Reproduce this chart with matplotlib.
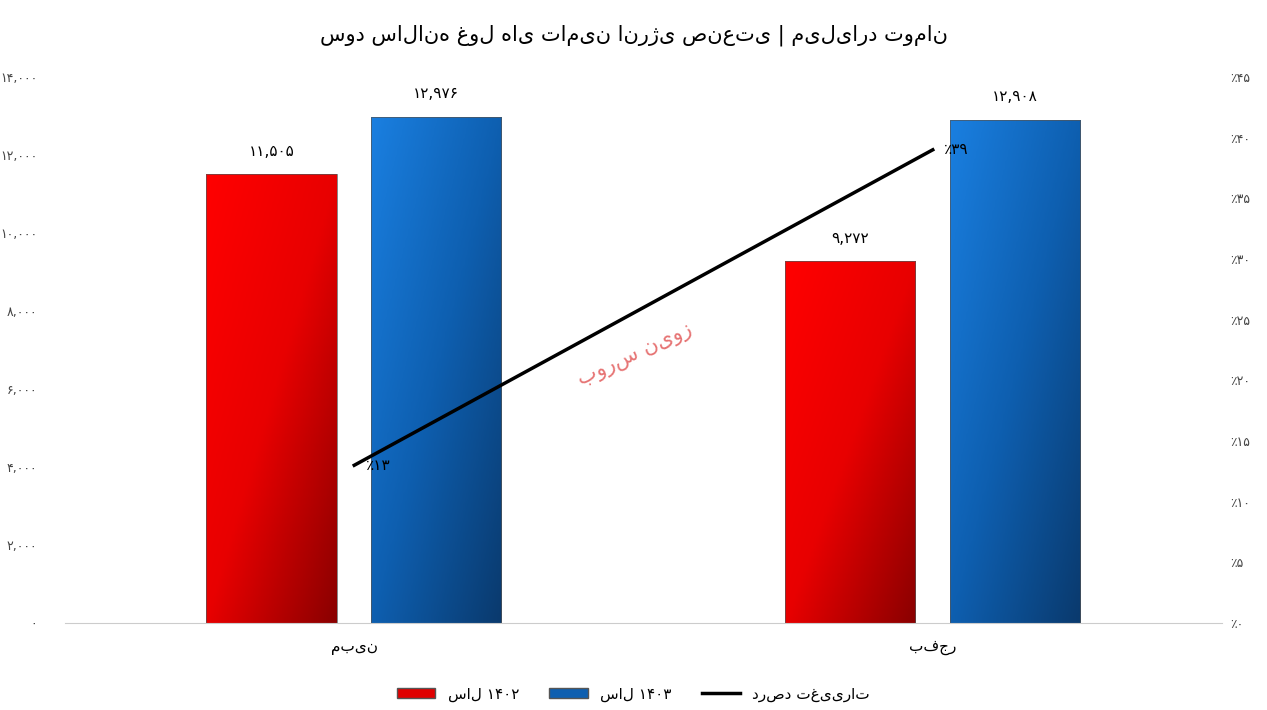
import matplotlib
matplotlib.use("Agg")
import matplotlib.pyplot as plt
import numpy as np
from matplotlib.colors import LinearSegmentedColormap
from matplotlib.lines import Line2D
from matplotlib.patches import Patch

plt.rcParams['font.family'] = ['DejaVu Sans']

categories = ['مبین', 'بفجر']
vals_1402 = [11505, 9272]
vals_1403 = [12976, 12908]
labels_1402 = ['۱۱,۵۰۵', '۹,۲۷۲']
labels_1403 = ['۱۲,۹۷۶', '۱۲,۹۰۸']
pct_change = [13, 39]
pct_labels = ['٪۱۳', '٪۳۹']
left_ticks = [0, 2000, 4000, 6000, 8000, 10000, 12000, 14000]
left_ticklabels = ['۰', '۲,۰۰۰', '۴,۰۰۰', '۶,۰۰۰', '۸,۰۰۰', '۱۰,۰۰۰', '۱۲,۰۰۰', '۱۴,۰۰۰']
right_ticks = [0, 5, 10, 15, 20, 25, 30, 35, 40, 45]
right_ticklabels = ['٪۰', '٪۵', '٪۱۰', '٪۱۵', '٪۲۰', '٪۲۵', '٪۳۰', '٪۳۵', '٪۴۰', '٪۴۵']

fig = plt.figure(figsize=(12.67, 7.1), dpi=100)
ax = fig.add_axes([65/1267, 1-623/710, (1222-65)/1267, (623-77)/710])
x = np.arange(len(categories))
w = 0.225
red_cmap = LinearSegmentedColormap.from_list('r', ['#ff0000', '#e80000', '#8b0000'])
blue_cmap = LinearSegmentedColormap.from_list('b', ['#1a7fe0', '#0e5fb0', '#0a3a6e'])

def grad_bars(xs, vals, cmap):
    bars = ax.bar(xs, vals, w, color='none', edgecolor='#555555', linewidth=0.5, zorder=2)
    for b in bars:
        x0, y0 = b.get_x(), b.get_y()
        ww, hh = b.get_width(), b.get_height()
        g = np.add.outer(np.linspace(0, 1, 50), np.linspace(0, 1, 50)) / 2
        im = ax.imshow(g, cmap=cmap, extent=[x0, x0+ww, y0, y0+hh], aspect='auto', zorder=1, vmin=0, vmax=1)
        im.set_clip_path(b)
    return bars

grad_bars(x - 0.143, vals_1402, red_cmap)
grad_bars(x + 0.142, vals_1403, blue_cmap)
for i in range(len(x)):
    ax.text(x[i]-0.143, vals_1402[i]+400, labels_1402[i], ha='center', va='bottom', fontsize=11)
    ax.text(x[i]+0.142, vals_1403[i]+400, labels_1403[i], ha='center', va='bottom', fontsize=11)
ax.set_xlim(-0.5, 1.5)
ax.set_ylim(0, 14000)
ax.set_yticks(left_ticks)
ax.set_yticklabels(left_ticklabels, fontsize=9, color='#444444')
ax.set_xticks(x)
ax.set_xticklabels(categories, fontsize=11)
for s in ['top', 'right', 'left']:
    ax.spines[s].set_visible(False)
ax.spines['bottom'].set_color('#cccccc')
ax.tick_params(length=0, pad=12)
ax.tick_params(axis='y', pad=20)

ax2 = ax.twinx()
ax2.plot(x, pct_change, color='black', linewidth=2.5, zorder=5)
for i in range(len(x)):
    ax2.text(x[i]+0.02, pct_change[i], pct_labels[i], ha='left', va='center', fontsize=11)
ax2.set_ylim(0, 45)
ax2.set_yticks(right_ticks)
ax2.set_yticklabels(right_ticklabels, fontsize=9, color='#444444')
for s in ['top', 'right', 'left', 'bottom']:
    ax2.spines[s].set_visible(False)
ax2.tick_params(length=0, pad=6)

fig.text(0.5, 1-35/710, 'سود سالانه غول های تامین انرژی صنعتی | میلیارد تومان', ha='center', va='center', fontsize=15)
fig.text(635/1267, 1-355/710, 'بورس نیوز', ha='center', va='center', fontsize=15, color='#e05050', rotation=25, alpha=0.8)

handles = [Patch(facecolor='#e00000', edgecolor='#555555'), Patch(facecolor='#0e5fb0', edgecolor='#555555'), Line2D([0], [0], color='black', lw=2.5)]
fig.legend(handles, ['سال ۱۴۰۲', 'سال ۱۴۰۳', 'درصد تغییرات'], loc='center', bbox_to_anchor=(0.5, 1-694/710), ncol=3, frameon=False, fontsize=11, handlelength=2.5)
fig.savefig('out.png', dpi=100)
